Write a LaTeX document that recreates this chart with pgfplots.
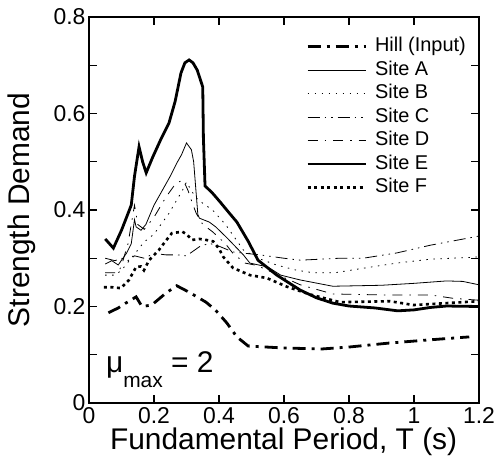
\documentclass[border=0pt]{standalone}
\usepackage{pgfplots}
\pgfplotsset{compat=1.18}
\usepackage{fontspec}
\setmainfont{Liberation Sans}
\begin{document}
\begin{tikzpicture}
\useasboundingbox (-89bp,-65bp) rectangle (409bp,403bp);
\begin{axis}[
  scale only axis, width=390bp, height=386bp,
  xmin=0, xmax=1.2, ymin=0, ymax=0.8,
  xtick={0,0.2,...,1.2}, ytick={0,0.2,...,0.8},
  minor ytick={0.1,0.3,0.5,0.7},
  tick align=inside, major tick length=8bp, minor tick length=8bp,
  every tick/.style={line width=1.3bp, black},
  axis line style={line width=2.2bp},
  /pgf/number format/assume math mode=true,
  ticklabel style={font=\fontsize{23}{23}\selectfont},
  xticklabel style={yshift=-1bp},
  xlabel={Fundamental Period, T (s)},
  ylabel={Strength Demand},
  label style={font=\fontsize{30}{30}\selectfont},
  xlabel style={at={(axis description cs:0.499,-0.101)}, anchor=center},
  ylabel style={at={(axis description cs:-0.172,0.5)}, anchor=center},
  legend style={at={(rel axis cs:0.977,0.955)}, anchor=north east, draw=none, fill=none,
    font=\fontsize{20}{20}\selectfont, row sep=3.5bp,
    nodes={inner sep=1bp, text height=14bp, text depth=4bp}},
  legend cell align=left,
  legend image code/.code={\draw[#1] (0bp,0bp) -- (58bp,0bp);},
]
\addplot[black, line width=2.8bp, dash pattern=on 13bp off 6bp on 3bp off 6bp] coordinates {
(0.06,0.187)(0.09,0.197)(0.113,0.207)(0.145,0.22)(0.163,0.2)(0.193,0.203)(0.237,0.228)(0.27,0.243)(0.307,0.23)(0.36,0.209)(0.39,0.192)(0.424,0.166)(0.455,0.137)(0.49,0.118)(0.6,0.114)(0.717,0.112)(0.8,0.116)(0.92,0.124)(1.05,0.131)(1.17,0.137)};
\addlegendentry{\hspace{7bp}Hill (Input)}
\addplot[black, line width=0.8bp] coordinates {
(0.05,0.288)(0.07,0.295)(0.09,0.286)(0.10,0.296)(0.115,0.31)(0.13,0.33)(0.14,0.38)(0.145,0.365)(0.16,0.358)(0.175,0.37)(0.2,0.41)(0.225,0.44)(0.25,0.47)(0.27,0.497)(0.285,0.515)(0.30,0.539)(0.315,0.525)(0.322,0.50)(0.335,0.39)(0.34,0.383)(0.37,0.375)(0.39,0.365)(0.425,0.342)(0.475,0.307)(0.495,0.29)(0.55,0.282)(0.59,0.265)(0.65,0.255)(0.75,0.242)(0.90,0.244)(1.0,0.248)(1.1,0.253)(1.15,0.252)(1.2,0.245)};
\addlegendentry{\hspace{7bp}Site A}
\addplot[black, line width=0.8bp, dash pattern=on 1.5bp off 5.5bp] coordinates {
(0.05,0.265)(0.08,0.265)(0.1,0.275)(0.13,0.30)(0.17,0.334)(0.2,0.35)(0.246,0.393)(0.287,0.44)(0.30,0.458)(0.315,0.44)(0.33,0.425)(0.35,0.414)(0.38,0.40)(0.42,0.37)(0.475,0.317)(0.52,0.30)(0.577,0.286)(0.64,0.275)(0.69,0.27)(0.757,0.27)(0.85,0.28)(0.947,0.29)(1.05,0.298)(1.18,0.302)(1.2,0.303)};
\addlegendentry{\hspace{7bp}Site B}
\addplot[black, line width=0.8bp, dash pattern=on 12bp off 5bp on 1.5bp off 5bp on 1.5bp off 5bp] coordinates {
(0.05,0.30)(0.08,0.295)(0.10,0.30)(0.12,0.295)(0.14,0.305)(0.17,0.30)(0.2,0.31)(0.237,0.307)(0.27,0.307)(0.30,0.305)(0.34,0.324)(0.37,0.331)(0.40,0.325)(0.443,0.313)(0.526,0.307)(0.6,0.30)(0.65,0.296)(0.77,0.30)(0.843,0.30)(0.947,0.311)(1.05,0.327)(1.2,0.346)};
\addlegendentry{\hspace{7bp}Site C}
\addplot[black, line width=0.8bp, dash pattern=on 10bp off 7bp on 1.5bp off 7bp] coordinates {
(0.05,0.27)(0.09,0.27)(0.10,0.285)(0.12,0.33)(0.14,0.41)(0.15,0.37)(0.17,0.36)(0.2,0.385)(0.237,0.427)(0.268,0.456)(0.29,0.462)(0.305,0.44)(0.318,0.414)(0.33,0.393)(0.35,0.37)(0.38,0.355)(0.42,0.33)(0.443,0.31)(0.48,0.29)(0.517,0.285)(0.55,0.275)(0.65,0.245)(0.75,0.226)(0.9,0.224)(1.05,0.224)(1.12,0.217)(1.2,0.213)};
\addlegendentry{\hspace{7bp}Site D}
\addplot[black, line width=2.8bp] coordinates {
(0.05,0.340)(0.075,0.321)(0.10,0.358)(0.13,0.41)(0.14,0.47)(0.154,0.531)(0.165,0.50)(0.176,0.477)(0.195,0.508)(0.22,0.545)(0.246,0.58)(0.265,0.625)(0.283,0.684)(0.295,0.705)(0.308,0.711)(0.32,0.705)(0.333,0.69)(0.35,0.655)(0.352,0.55)(0.357,0.450)(0.38,0.435)(0.403,0.417)(0.43,0.395)(0.455,0.375)(0.49,0.335)(0.52,0.296)(0.55,0.28)(0.578,0.265)(0.65,0.234)(0.70,0.218)(0.75,0.207)(0.80,0.201)(0.88,0.197)(0.95,0.191)(1.0,0.193)(1.05,0.198)(1.1,0.201)(1.2,0.200)};
\addlegendentry{\hspace{7bp}Site E}
\addplot[black, line width=2.6bp, dash pattern=on 3bp off 3.5bp] coordinates {
(0.046,0.24)(0.07,0.24)(0.098,0.238)(0.123,0.255)(0.145,0.282)(0.16,0.283)(0.169,0.275)(0.185,0.296)(0.215,0.317)(0.235,0.335)(0.255,0.352)(0.287,0.355)(0.30,0.35)(0.317,0.338)(0.34,0.34)(0.36,0.338)(0.382,0.335)(0.40,0.32)(0.413,0.303)(0.443,0.28)(0.495,0.265)(0.547,0.259)(0.609,0.241)(0.68,0.225)(0.772,0.209)(0.926,0.211)(0.998,0.203)(1.1,0.207)(1.2,0.211)};
\addlegendentry{\hspace{7bp}Site F}
\node[anchor=base west, inner sep=0pt] at (axis cs:0.052,0.064)
  {\fontsize{30}{30}\selectfont μ\raisebox{-15bp}{\fontsize{21}{21}\selectfont max} = 2};
\end{axis}
\end{tikzpicture}
\end{document}
